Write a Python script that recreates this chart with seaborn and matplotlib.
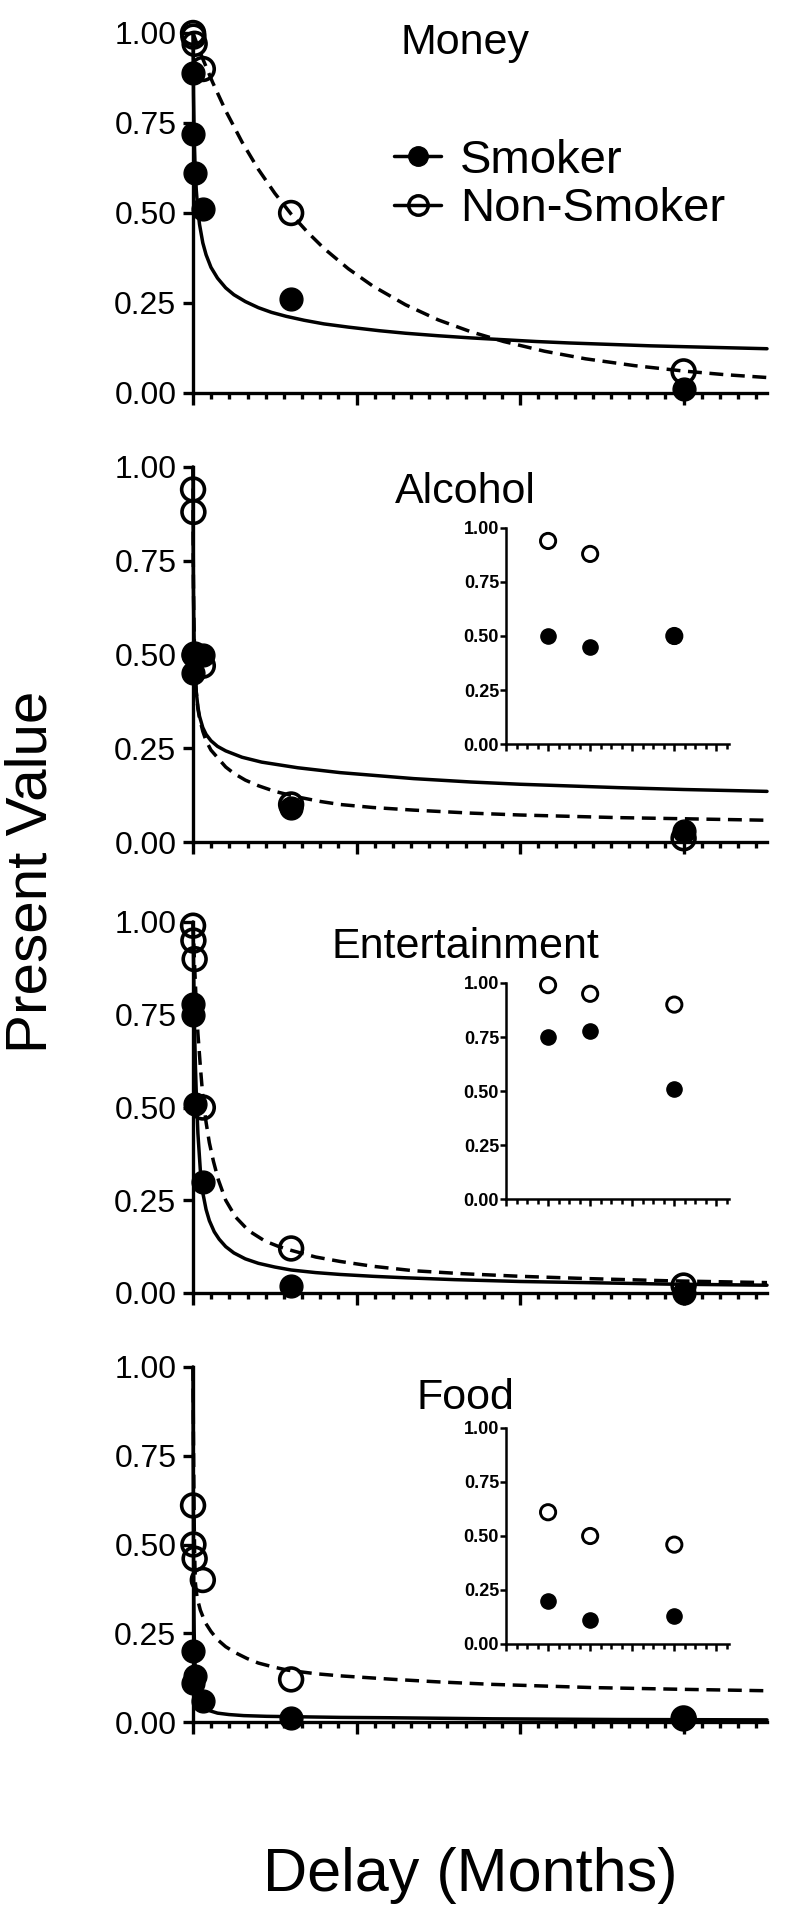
import matplotlib

matplotlib.use("Agg")
import matplotlib.pyplot as plt
import numpy as np
import seaborn as sns
from matplotlib.lines import Line2D
from matplotlib.ticker import FixedLocator, FormatStrFormatter

W, H = 792, 1912

# delays in months: 1 day, 1 week, 1 month, 6 months, 5 years, 25 years
delays = [1 / 30, 0.25, 1, 6, 60, 300]
inset_positions = [1, 2, 4]

panels = ["Money", "Alcohol", "Entertainment", "Food"]

money_smoker = [0.89, 0.72, 0.61, 0.51, 0.26, 0.01]
money_nonsmoker = [1.00, 0.99, 0.97, 0.90, 0.50, 0.06]
alcohol_smoker = [0.50, 0.45, 0.50, 0.50, 0.09, 0.03]
alcohol_nonsmoker = [0.94, 0.88, 0.50, 0.47, 0.10, 0.01]
ent_smoker = [0.75, 0.78, 0.51, 0.30, 0.02, 0.00]
ent_nonsmoker = [0.99, 0.95, 0.90, 0.50, 0.12, 0.02]
food_smoker = [0.20, 0.11, 0.13, 0.06, 0.01, 0.01]
food_nonsmoker = [0.61, 0.50, 0.46, 0.40, 0.12, 0.01]

# fitted discounting curves
money_smoker_fit_x = [0, 0.3, 0.7, 1.2, 2, 3, 4, 6, 8, 11, 15, 20, 25, 32, 40, 48, 57, 68, 80, 95,
                      114, 130, 150, 170, 186, 210, 230, 255, 280, 315, 351]
money_smoker_fit_y = [1.0, 0.83, 0.72, 0.64, 0.564, 0.506, 0.468, 0.417, 0.384, 0.349, 0.319, 0.292,
                      0.273, 0.254, 0.237, 0.224, 0.213, 0.202, 0.192, 0.183, 0.173, 0.166, 0.159,
                      0.153, 0.149, 0.143, 0.139, 0.135, 0.131, 0.127, 0.123]
money_nonsmoker_fit_x = [0, 3, 6, 12, 20, 30, 40, 50, 60, 70, 80, 95, 110, 130, 150, 170, 190, 215,
                         240, 270, 300, 325, 351]
money_nonsmoker_fit_y = [1.0, 0.963, 0.928, 0.863, 0.784, 0.697, 0.621, 0.555, 0.497, 0.447, 0.402,
                         0.345, 0.297, 0.245, 0.203, 0.170, 0.143, 0.116, 0.095, 0.076, 0.061, 0.051,
                         0.043]
alcohol_smoker_fit_x = [0, 0.1, 0.25, 0.5, 1, 1.5, 2, 3, 4, 6, 8, 11, 15, 20, 30, 42, 64, 90, 135,
                        170, 200, 260, 300, 351]
alcohol_smoker_fit_y = [1.0, 0.80, 0.68, 0.58, 0.48, 0.43, 0.40, 0.36, 0.335, 0.305, 0.287, 0.27,
                        0.255, 0.243, 0.226, 0.213, 0.198, 0.185, 0.169, 0.160, 0.154, 0.145, 0.140,
                        0.135]
alcohol_nonsmoker_fit_x = [0, 0.1, 0.25, 0.5, 1, 1.5, 2, 3, 4, 6, 8, 11, 15, 20, 25, 32, 40, 50, 64,
                           78, 90, 110, 135, 170, 200, 260, 300, 351]
alcohol_nonsmoker_fit_y = [1.0, 0.82, 0.70, 0.60, 0.50, 0.44, 0.40, 0.355, 0.33, 0.295, 0.27, 0.245,
                           0.225, 0.20, 0.183, 0.165, 0.15, 0.135, 0.12, 0.108, 0.10, 0.092, 0.085,
                           0.077, 0.072, 0.065, 0.062, 0.058]
ent_smoker_fit_x = [0, 0.25, 0.5, 1, 1.5, 2, 3, 4.5, 6, 8, 10, 13, 16, 20, 25, 32, 40, 50, 60, 75, 90,
                    110, 130, 160, 200, 240, 290, 351]
ent_smoker_fit_y = [1.0, 0.92, 0.84, 0.70, 0.61, 0.54, 0.43, 0.33, 0.27, 0.225, 0.195, 0.165, 0.145,
                    0.125, 0.108, 0.092, 0.08, 0.07, 0.062, 0.055, 0.05, 0.045, 0.041, 0.036, 0.031,
                    0.028, 0.024, 0.021]
ent_nonsmoker_fit_x = [0, 0.5, 1, 2, 3, 4.5, 6, 8, 10, 12.5, 15.5, 20, 26, 34, 44, 52, 60, 75, 90, 110,
                       135, 165, 200, 240, 290, 351]
ent_nonsmoker_fit_y = [1.0, 0.94, 0.88, 0.78, 0.70, 0.61, 0.53, 0.46, 0.405, 0.355, 0.305, 0.25, 0.205,
                       0.168, 0.14, 0.126, 0.115, 0.097, 0.085, 0.072, 0.06, 0.052, 0.045, 0.039,
                       0.033, 0.028]
food_smoker_fit_x = [0, 0.15, 0.3, 0.5, 0.7, 1, 1.5, 2, 3, 4, 5.5, 7.5, 10, 15, 22, 31, 45, 60, 90,
                     120, 183, 260, 351]
food_smoker_fit_y = [1.0, 0.7, 0.5, 0.34, 0.26, 0.19, 0.135, 0.105, 0.075, 0.06, 0.048, 0.038, 0.032,
                     0.025, 0.021, 0.018, 0.016, 0.015, 0.013, 0.012, 0.009, 0.007, 0.006]
food_nonsmoker_fit_x = [0, 0.25, 0.5, 0.75, 1, 1.5, 2.5, 4.5, 7.5, 11, 15, 20, 26, 33, 40, 50, 58, 75,
                        90, 123, 150, 183, 244, 300, 351]
food_nonsmoker_fit_y = [1.0, 0.82, 0.68, 0.56, 0.47, 0.39, 0.35, 0.315, 0.28, 0.255, 0.232, 0.212,
                        0.195, 0.179, 0.166, 0.154, 0.146, 0.136, 0.13, 0.12, 0.113, 0.106, 0.097,
                        0.092, 0.088]

smoker_points = [money_smoker, alcohol_smoker, ent_smoker, food_smoker]
nonsmoker_points = [money_nonsmoker, alcohol_nonsmoker, ent_nonsmoker, food_nonsmoker]
smoker_fits = [
    (money_smoker_fit_x, money_smoker_fit_y),
    (alcohol_smoker_fit_x, alcohol_smoker_fit_y),
    (ent_smoker_fit_x, ent_smoker_fit_y),
    (food_smoker_fit_x, food_smoker_fit_y),
]
nonsmoker_fits = [
    (money_nonsmoker_fit_x, money_nonsmoker_fit_y),
    (alcohol_nonsmoker_fit_x, alcohol_nonsmoker_fit_y),
    (ent_nonsmoker_fit_x, ent_nonsmoker_fit_y),
    (food_nonsmoker_fit_x, food_nonsmoker_fit_y),
]
has_inset = [False, True, True, True]

sns.set_style("ticks")
plt.rcParams["font.family"] = ["Liberation Sans", "DejaVu Sans"]
plt.rcParams.update({
    "text.color": "black",
    "axes.edgecolor": "black",
    "axes.labelcolor": "black",
    "xtick.color": "black",
    "ytick.color": "black",
})


def box(left, top, right, bottom):
    return [left / W, 1 - bottom / H, (right - left) / W, (bottom - top) / H]


def style_main(ax):
    ax.set_xlim(0, 351)
    ax.set_ylim(0, 1)
    sns.despine(ax=ax)
    for side in ("left", "bottom"):
        ax.spines[side].set_linewidth(2.4)
    ax.yaxis.set_major_locator(FixedLocator([0, 0.25, 0.5, 0.75, 1.0]))
    ax.yaxis.set_major_formatter(FormatStrFormatter("%.2f"))
    ax.xaxis.set_major_locator(FixedLocator([0, 100, 200, 300]))
    ax.xaxis.set_minor_locator(FixedLocator(np.arange(0, 346, 100 / 9)))
    ax.tick_params(axis="y", labelsize=23, length=7, width=2.4, pad=5)
    ax.tick_params(axis="x", which="major", length=8.5, width=2.4, labelbottom=False)
    ax.tick_params(axis="x", which="minor", length=4.5, width=2.4)
    ax.set_xlabel("")
    ax.set_ylabel("")


def style_inset(ax):
    ax.set_xlim(0, 5.3)
    ax.set_ylim(0, 1)
    sns.despine(ax=ax)
    for side in ("left", "bottom"):
        ax.spines[side].set_linewidth(1.8)
    ax.yaxis.set_major_locator(FixedLocator([0, 0.25, 0.5, 0.75, 1.0]))
    ax.yaxis.set_major_formatter(FormatStrFormatter("%.2f"))
    ax.xaxis.set_major_locator(FixedLocator([0, 1, 2, 3, 4, 5]))
    ax.xaxis.set_minor_locator(FixedLocator(np.arange(0, 5.26, 0.25)))
    ax.tick_params(axis="y", labelsize=13, length=4, width=1.8, pad=1)
    for lab in ax.get_yticklabels():
        lab.set_fontweight("bold")
    ax.tick_params(axis="x", which="major", length=5, width=1.8, labelbottom=False)
    ax.tick_params(axis="x", which="minor", length=3.5, width=1.8)
    ax.set_xlabel("")
    ax.set_ylabel("")


fig = plt.figure(figsize=(W / 100, H / 100), dpi=100)

main_rows = [(33, 393), (467, 842), (922, 1293), (1367, 1722)]
title_y = [43, 492, 947, 1398]

for i, name in enumerate(panels):
    top, bottom = main_rows[i]
    ax = fig.add_axes(box(193, top, 767, bottom))

    sx, sy = smoker_fits[i]
    nx, ny = nonsmoker_fits[i]
    sns.lineplot(x=sx, y=sy, ax=ax, color="black", linewidth=2.5, estimator=None, sort=False, clip_on=False)
    sns.lineplot(x=nx, y=ny, ax=ax, color="black", linewidth=2.5, estimator=None, sort=False,
                 linestyle=(0, (4, 2.2)), clip_on=False)

    sns.scatterplot(x=delays, y=nonsmoker_points[i], ax=ax, s=270, marker="o", facecolor="none",
                    edgecolor="black", linewidth=2.6, clip_on=False, zorder=4)
    sns.scatterplot(x=delays, y=smoker_points[i], ax=ax, s=270, marker="o", color="black",
                    edgecolor="black", linewidth=1, clip_on=False, zorder=5)
    style_main(ax)

    fig.text(465 / W, 1 - title_y[i] / H, name, fontsize=31, ha="center", va="center")

    if has_inset[i]:
        itop = top + 61
        iax = fig.add_axes(box(506, itop, 729, itop + 216))
        sns.scatterplot(x=inset_positions, y=nonsmoker_points[i][:3], ax=iax, s=120, marker="o",
                        facecolor="none", edgecolor="black", linewidth=2.1, clip_on=False, zorder=4)
        sns.scatterplot(x=inset_positions, y=smoker_points[i][:3], ax=iax, s=120, marker="o",
                        color="black", edgecolor="black", linewidth=1, clip_on=False, zorder=5)
        style_inset(iax)

handles = [
    Line2D([], [], color="black", linewidth=2.5, marker="o", markersize=14,
           markerfacecolor="black", markeredgecolor="black"),
    Line2D([], [], color="black", linewidth=2.5, marker="o", markersize=14,
           markerfacecolor="none", markeredgecolor="black", markeredgewidth=2.5),
]
fig.legend(handles, ["Smoker", "Non-Smoker"], loc="center left",
           bbox_to_anchor=(394 / W, 1 - 185 / H), frameon=False, fontsize=34,
           handlelength=1.0, handletextpad=0.4, labelspacing=0.1, borderpad=0, borderaxespad=0)

fig.text(32 / W, 1 - 872 / H, "Present Value", fontsize=42, rotation=90, ha="center", va="center")
fig.text(470 / W, 1 - 1876 / H, "Delay (Months)", fontsize=44, ha="center", va="center")

fig.savefig("out.png", dpi=100)
plt.close(fig)
